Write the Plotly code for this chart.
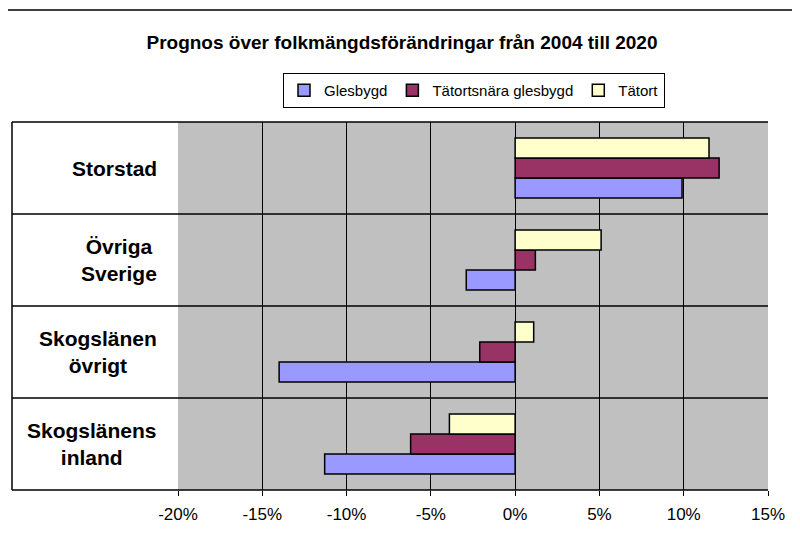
import plotly.graph_objects as go

# ---- data ----
categories = ["Skogslänens inland", "Skogslänen övrigt", "Övriga Sverige", "Storstad"]
category_labels = ["Skogslänens<br>inland", "Skogslänen<br>övrigt", "Övriga<br>Sverige", "Storstad"]
series_names = ["Glesbygd", "Tätortsnära glesbygd", "Tätort"]
glesbygd = [-11.3, -14.0, -2.9, 9.9]
tatortsnara = [-6.2, -2.1, 1.2, 12.1]
tatort = [-3.9, 1.1, 5.1, 11.5]
tick_vals = [-20, -15, -10, -5, 0, 5, 10, 15]
tick_labels = ["-20%", "-15%", "-10%", "-5%", "0%", "5%", "10%", "15%"]
title_text = "Prognos över folkmängdsförändringar från 2004 till 2020"

colors = ["#9999FF", "#993366", "#FFFFCC"]
W, H = 800, 543
OFF = 8  # page body margin offset
# plot area in screen pixels
SX0, SX1, SY0, SY1 = 178, 768, 122, 490
L = SX0 - OFF
T = SY0 - OFF
R = W - (SX1 - OFF)
B = H - (SY1 - OFF)
pw, ph = SX1 - SX0, SY1 - SY0


def px_x(x):
    return (x - SX0) / pw


def px_y(y):
    return (SY1 - y) / ph


FONT = "Liberation Sans, Arial, sans-serif"

fig = go.Figure()
for name, vals, col in zip(series_names, [glesbygd, tatortsnara, tatort], colors):
    fig.add_trace(go.Bar(
        y=categories, x=vals, name=name, orientation="h",
        marker=dict(color=col, line=dict(color="black", width=1.5)),
        hoverinfo="skip",
    ))

shapes = []
for yb in [0.5, 1.5, 2.5]:
    shapes.append(dict(type="line", xref="paper", yref="y", x0=px_x(12), x1=1, y0=yb, y1=yb,
                       line=dict(color="black", width=1.5), layer="above"))
    shapes.append(dict(type="line", xref="x", yref="y", x0=-0.45, x1=0, y0=yb, y1=yb,
                       line=dict(color="#333333", width=1.5), layer="above"))
for yp in [0, 1]:
    shapes.append(dict(type="line", xref="paper", yref="paper", x0=px_x(12), x1=1, y0=yp, y1=yp,
                       line=dict(color="black", width=1.5), layer="above"))
shapes.append(dict(type="line", xref="paper", yref="paper", x0=px_x(12), x1=px_x(12), y0=0, y1=1,
                   line=dict(color="black", width=1.5), layer="above"))
shapes.append(dict(type="line", xref="paper", yref="paper", x0=px_x(7), x1=px_x(7), y0=px_y(10), y1=px_y(560),
                   line=dict(color="black", width=1.5), layer="above"))
shapes.append(dict(type="line", xref="paper", yref="paper", x0=px_x(7), x1=px_x(820), y0=px_y(10), y1=px_y(10),
                   line=dict(color="black", width=1.5), layer="above"))

annotations = []
for cat, lab in zip(categories, category_labels):
    annotations.append(dict(xref="paper", yref="y", x=px_x(159), y=cat, text=lab, showarrow=False,
                            xanchor="right", yanchor="middle", align="center",
                            font=dict(family=FONT, size=21, color="black", weight="bold")))

fig.update_layout(
    width=W, height=H,
    margin=dict(l=L, r=R, t=T, b=B, pad=0),
    paper_bgcolor="white", plot_bgcolor="#C0C0C0",
    barmode="group", bargap=0.35, bargroupgap=0,
    title=dict(text="<b>" + title_text + "</b>", xref="container", yref="container",
               x=(402 - OFF) / W, y=1 - (42 - OFF) / H, xanchor="center", yanchor="middle",
               font=dict(family=FONT, size=19, color="black")),
    legend=dict(orientation="h", xref="paper", yref="paper", x=px_x(474), y=px_y(73),
                xanchor="center", yanchor="top", bgcolor="white", bordercolor="black", borderwidth=1,
                font=dict(family=FONT, size=15, color="black"), itemwidth=30, traceorder="normal"),
    xaxis=dict(range=[-20, 15], tickvals=tick_vals, ticktext=tick_labels,
               showgrid=True, gridcolor="black", gridwidth=1, zeroline=False,
               showline=False, ticks="outside", ticklen=5, tickcolor="black",
               ticklabelstandoff=4,
               tickfont=dict(family=FONT, size=17, color="black"), fixedrange=True),
    yaxis=dict(range=[-0.5, 3.5], showticklabels=False, showgrid=False, zeroline=False,
               showline=False, ticks="", fixedrange=True),
    shapes=shapes, annotations=annotations,
    showlegend=True,
)

fig.write_html("out.html")
